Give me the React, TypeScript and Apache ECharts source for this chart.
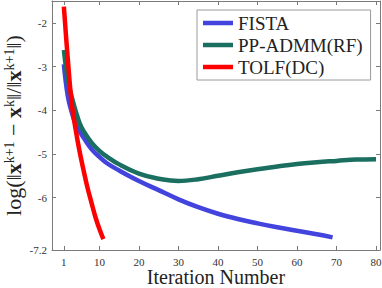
import React, { useEffect, useRef } from "react";
import * as echarts from "echarts";

const xTicks = [1, 10, 20, 30, 40, 50, 60, 70, 80];
const yTicks = [-7.2, -6, -5, -4, -3, -2];

const fistaIter = [1, 2, 3, 4, 5, 6, 8, 10, 12, 15, 20, 25, 30, 35, 40, 45, 50, 55, 60, 65, 69];
const fistaVal = [-2.95, -3.68, -4.05, -4.32, -4.49, -4.63, -4.89, -5.07, -5.22, -5.38, -5.62, -5.83, -6.04, -6.22, -6.37, -6.49, -6.59, -6.68, -6.76, -6.84, -6.91];

const ppIter = [1, 2, 3, 4, 5, 6, 8, 10, 12, 15, 20, 25, 28, 30, 35, 40, 45, 50, 55, 60, 65, 70, 75, 80];
const ppVal = [-2.62, -3.3, -3.7, -4.02, -4.3, -4.48, -4.74, -4.93, -5.07, -5.24, -5.45, -5.57, -5.61, -5.62, -5.58, -5.5, -5.42, -5.35, -5.29, -5.23, -5.19, -5.16, -5.13, -5.12];

const tolfIter = [1, 2, 3, 4, 5, 6, 7, 8, 9, 10, 11];
const tolfVal = [-1.63, -2.83, -3.85, -4.45, -4.95, -5.38, -5.78, -6.12, -6.45, -6.72, -6.95];

const names = ["FISTA", "PP-ADMM(RF)", "TOLF(DC)"];
const colors = ["#4343DE", "#1A6F60", "#FF0000"];

const pairs = (xs: number[], ys: number[]) => xs.map((x, i) => [x, ys[i]]);

const FONT = "Liberation Serif";
const AXIS_COLOR = "#7a7a7a";

export default function App() {
  const ref = useRef<HTMLDivElement>(null);
  useEffect(() => {
    if (!ref.current) return;
    const chart = echarts.init(ref.current, undefined, { renderer: "svg" });
    const xCommon = {
      type: "value" as const,
      min: -2,
      max: 81,
      nameMoveOverlap: false,
      axisLine: { show: true, onZero: false, lineStyle: { color: AXIS_COLOR, width: 1 } },
      axisTick: { show: true, inside: true, length: 4, customValues: xTicks, lineStyle: { color: AXIS_COLOR } },
      splitLine: { show: false },
    };
    const yCommon = {
      type: "value" as const,
      min: -7.2,
      max: -1.5,
      nameMoveOverlap: false,
      axisLine: { show: true, onZero: false, lineStyle: { color: AXIS_COLOR, width: 1 } },
      axisTick: { show: true, inside: true, length: 4, customValues: yTicks, lineStyle: { color: AXIS_COLOR } },
      splitLine: { show: false },
    };
    chart.setOption({
      animation: false,
      backgroundColor: "#ffffff",
      grid: { left: 52, right: 2, top: 1, bottom: 38, containLabel: false, outerBoundsMode: "none" },
      legend: {
        data: names,
        orient: "vertical",
        left: 197,
        top: 10,
        padding: [3, 8, 3, 6],
        itemWidth: 30,
        itemHeight: 4.5,
        itemGap: 2,
        icon: "rect",
        backgroundColor: "#ffffff",
        borderColor: "#9a9a9a",
        borderWidth: 1,
        borderRadius: 0,
        textStyle: { fontFamily: FONT, fontSize: 19, color: "#222", lineHeight: 20 },
      },
      xAxis: [
        {
          ...xCommon,
          position: "bottom",
          name: "Iteration Number",
          nameLocation: "middle",
          nameGap: 17.5,
          nameTextStyle: { fontFamily: FONT, fontSize: 20, color: "#222", lineHeight: 18 },
          axisLabel: { show: true, customValues: xTicks, fontFamily: FONT, fontSize: 11, color: "#333", margin: 6 },
        },
        {
          ...xCommon,
          position: "top",
          axisLabel: { show: false },
        },
      ],
      yAxis: [
        {
          ...yCommon,
          position: "left",
          name: "{n|log(‖}{b|x}{s|k+1}{n| − }{b|x}{s|k}{n|‖/‖}{b|x}{s|k+1}{n|‖)}",
          nameLocation: "middle",
          nameRotate: 90,
          nameGap: 28,
          nameTextStyle: {
            rich: {
              n: { fontFamily: FONT, fontSize: 22, color: "#222", lineHeight: 22, verticalAlign: "middle" },
              b: { fontFamily: FONT, fontSize: 22, fontWeight: "bold", color: "#222", lineHeight: 22, verticalAlign: "middle" },
              s: { fontFamily: FONT, fontSize: 14, color: "#222", lineHeight: 13, verticalAlign: "top" },
            },
          },
          axisLabel: { show: true, customValues: yTicks, fontFamily: FONT, fontSize: 11, color: "#333", margin: 5 },
        },
        {
          ...yCommon,
          position: "right",
          axisLabel: { show: false },
        },
      ],
      series: [
        { name: names[0], data: pairs(fistaIter, fistaVal) },
        { name: names[1], data: pairs(ppIter, ppVal) },
        { name: names[2], data: pairs(tolfIter, tolfVal) },
      ].map((s, i) => ({
        ...s,
        type: "line",
        xAxisIndex: 0,
        yAxisIndex: 0,
        smooth: 0.4,
        showSymbol: false,
        symbol: "none",
        color: colors[i],
        lineStyle: { color: colors[i], width: 4.5 },
        z: 2 + i,
      })),
    });
    return () => chart.dispose();
  }, []);
  return <div ref={ref} style={{ width: 382, height: 288, position: "absolute", left: 0, top: 0 }} />;
}
